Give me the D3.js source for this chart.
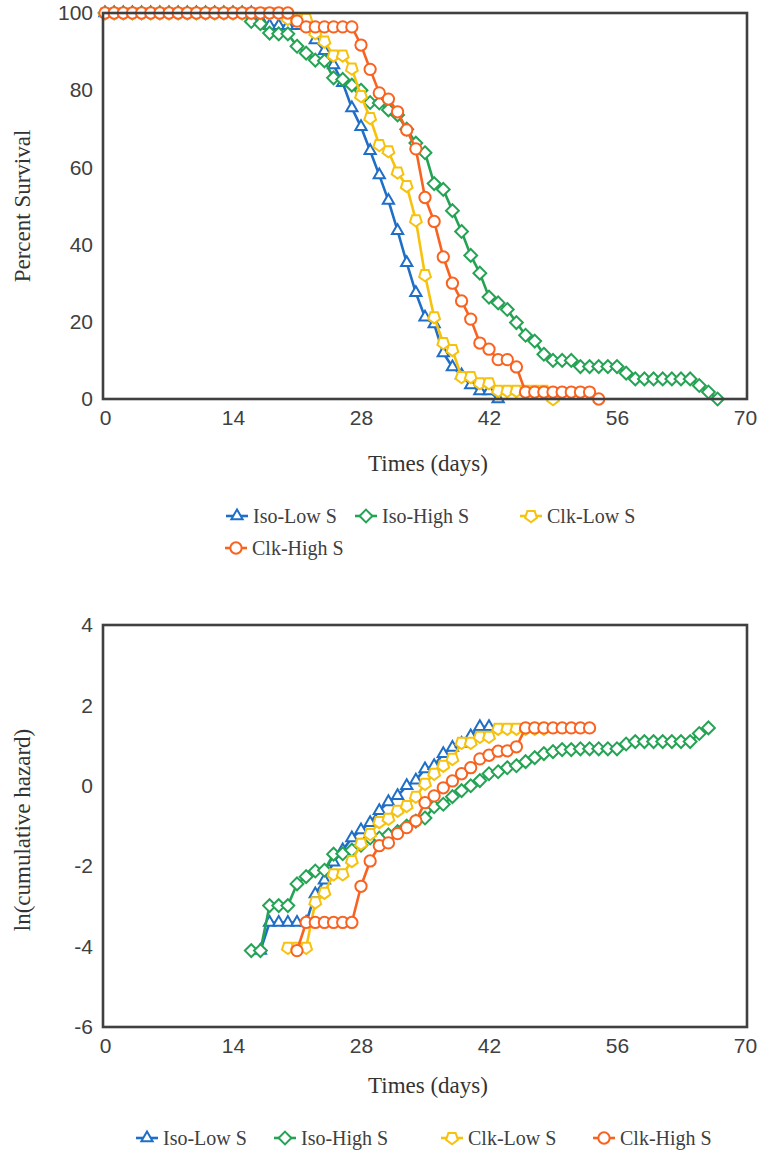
<!DOCTYPE html>
<html><head><meta charset="utf-8">
<script src="https://cdn.jsdelivr.net/npm/d3@7"></script>
<style>body{margin:0;background:#fff}</style>
</head><body>
<svg id="c" width="761" height="1154"></svg>
<script>
// ---------- data ----------
const seriesNames = ["Iso-Low S", "Iso-High S", "Clk-Low S", "Clk-High S"];
const seriesColors = ["#1f6fc8", "#25a354", "#f7c20d", "#f9621f"];
const seriesShapes = ["triangle", "diamond", "pentagon", "circle"];

const xTicks = [0, 14, 28, 42, 56, 70];
const survTicks = [0, 20, 40, 60, 80, 100];
const hazTicks = [-6, -4, -2, 0, 2, 4];

// Percent survival, one value per day starting at day 0
const survIsoLow = [100,100,100,100,100,100,100,100,100,100,100,100,100,100,100,100,100,
  98.3,96.7,96.7,96.7,96.7,96.7,93.0,90.2,86.5,81.9,75.4,70.5,64.3,58.0,51.4,43.6,35.3,27.5,
  21.2,19.4,11.9,8.3,6.2,3.6,2.1,2.1,0];
const survIsoHigh = [100,100,100,100,100,100,100,100,100,100,100,100,100,100,100,100,
  97.8,97.2,94.8,94.6,94.6,91.4,89.6,87.8,87.6,83.2,82.8,81.3,80.0,76.8,76.7,74.9,73.6,69.9,
  66.3,63.8,55.8,54.3,48.8,43.4,37.2,32.6,26.4,24.9,23.2,19.8,16.5,15.0,11.6,10.0,10.0,10.0,
  8.4,8.4,8.4,8.4,8.4,6.7,5.2,5.2,5.2,5.2,5.2,5.2,5.2,3.5,1.8,0];
const survClkLow = [100,100,100,100,100,100,100,100,100,100,100,100,100,100,100,100,100,100,100,100,
  98.5,98.5,98.5,94.8,92.6,89.0,89.0,85.6,78.5,72.8,65.8,64.2,58.7,55.2,46.3,32.1,21.2,14.5,
  12.7,5.7,5.7,4.1,4.1,2.1,2.1,2.1,2.1,2.1,2.1,0];
const survClkHigh = [100,100,100,100,100,100,100,100,100,100,100,100,100,100,100,100,100,100,100,100,100,
  97.9,96.4,96.4,96.4,96.4,96.4,96.4,91.7,85.4,79.3,77.7,74.4,69.7,64.8,52.2,46.0,36.8,30.0,
  25.4,20.7,14.5,12.9,10.2,10.2,8.3,1.8,1.8,1.8,1.8,1.8,1.8,1.8,1.8,0];

// ln(cumulative hazard), one value per day starting at the given first day
const hazStartDays = [17, 16, 20, 21];
const hazIsoLow = [-4.1,-3.4,-3.4,-3.4,-3.4,-3.4,-2.69,-2.35,-1.9,-1.6,-1.3,-1.1,-0.92,-0.62,
  -0.4,-0.25,0.0,0.14,0.42,0.5,0.8,0.95,1.05,1.24,1.47,1.47];
const hazIsoHigh = [-4.1,-4.1,-2.98,-2.98,-2.98,-2.44,-2.26,-2.12,-2.1,-1.7,-1.69,-1.6,-1.48,
  -1.3,-1.3,-1.22,-1.14,-1.0,-0.88,-0.8,-0.52,-0.46,-0.27,-0.12,0.0,0.13,0.3,0.35,0.45,0.5,
  0.6,0.7,0.8,0.85,0.9,0.9,0.92,0.92,0.92,0.92,0.92,1.04,1.1,1.1,1.1,1.1,1.1,1.1,1.1,1.3,1.44];
const hazClkLow = [-4.03,-4.03,-4.03,-2.9,-2.66,-2.2,-2.2,-1.87,-1.44,-1.2,-0.9,-0.82,-0.62,-0.5,
  -0.27,0.05,0.3,0.5,0.67,1.07,1.07,1.22,1.22,1.42,1.42,1.42,1.42,1.42,1.42];
const hazClkHigh = [-4.1,-3.4,-3.4,-3.4,-3.4,-3.4,-3.4,-2.5,-1.87,-1.49,-1.42,-1.19,-1.04,-0.87,
  -0.42,-0.25,-0.05,0.12,0.3,0.45,0.67,0.76,0.86,0.87,0.97,1.44,1.44,1.44,1.44,1.44,1.44,1.44,1.44];

const survSeries = [survIsoLow, survIsoHigh, survClkLow, survClkHigh];
const hazSeries = [hazIsoLow, hazIsoHigh, hazClkLow, hazClkHigh];

// ---------- drawing ----------
const svg = d3.select("#c");
const sansFont = "'Liberation Sans', Arial, sans-serif";
const serifFont = "'Liberation Serif', 'Times New Roman', serif";
const axisColor = "#404040";

function markerPath(shape) {
  if (shape === "triangle") return d3.symbol(d3.symbolTriangle, 55)();
  if (shape === "diamond") return "M0,-6.4L6.4,0L0,6.4L-6.4,0Z";
  if (shape === "pentagon") {
    const r = 6.2, pts = [];
    for (let i = 0; i < 5; i++) {
      const a = Math.PI / 2 + i * 2 * Math.PI / 5;
      pts.push([r * Math.cos(a), r * Math.sin(a)]);
    }
    return "M" + pts.map(p => p[0].toFixed(2) + "," + p[1].toFixed(2)).join("L") + "Z";
  }
  return d3.symbol(d3.symbolCircle, 100)();
}

function drawPanel(cfg) {
  const x = d3.scaleLinear().domain([0, 70]).range([cfg.left + 2, cfg.right - 2]);
  const y = d3.scaleLinear().domain(cfg.yDomain).range([cfg.bottom, cfg.top]);
  const g = svg.append("g");

  // axes (labels only)
  const ya = g.append("g").attr("transform", `translate(${cfg.left - 10},0)`)
    .call(d3.axisLeft(y).tickValues(cfg.yTicks).tickFormat(d => String(d)).tickSize(0).tickPadding(0));
  ya.select(".domain").remove();
  ya.selectAll("text").attr("font-family", sansFont).attr("font-size", 21).attr("fill", axisColor);

  const xa = g.append("g").attr("transform", `translate(0,${cfg.bottom + 8})`)
    .call(d3.axisBottom(x).tickValues(xTicks).tickFormat(d => String(d)).tickSize(0).tickPadding(0));
  xa.select(".domain").remove();
  xa.selectAll("text").attr("font-family", sansFont).attr("font-size", 21).attr("fill", axisColor)
    .attr("dy", "0.85em");

  // series
  const line = d3.line().x(d => x(d[0])).y(d => y(d[1]));
  cfg.series.forEach((vals, i) => {
    const start = cfg.starts[i];
    const pts = vals.map((v, k) => [start + k, v]);
    g.append("path").attr("d", line(pts)).attr("fill", "none")
      .attr("stroke", seriesColors[i]).attr("stroke-width", 2.6).attr("stroke-linejoin", "round");
    g.append("g").selectAll("path").data(pts).join("path")
      .attr("d", markerPath(seriesShapes[i]))
      .attr("transform", d => `translate(${x(d[0])},${y(d[1])})`)
      .attr("fill", "#fff").attr("stroke", seriesColors[i]).attr("stroke-width", 2);
  });

  // frame
  g.append("rect").attr("x", cfg.left).attr("y", cfg.top)
    .attr("width", cfg.right - cfg.left).attr("height", cfg.bottom - cfg.top)
    .attr("fill", "none").attr("stroke", axisColor).attr("stroke-width", 2.6);

  // titles
  g.append("text").attr("x", (cfg.left + cfg.right) / 2 + 3).attr("y", cfg.xTitleY)
    .attr("text-anchor", "middle").attr("font-family", serifFont).attr("font-size", 23)
    .attr("fill", "#333").text("Times (days)");
  g.append("text").attr("transform", `translate(${cfg.yTitleX},${cfg.yTitleY}) rotate(-90)`)
    .attr("text-anchor", "middle").attr("font-family", serifFont).attr("font-size", 23)
    .attr("fill", "#333").text(cfg.yTitle);

  // legend
  cfg.legend.forEach((p, i) => {
    const lg = g.append("g").attr("transform", `translate(${p[0]},${p[1]})`);
    lg.append("line").attr("x1", -11).attr("x2", 11).attr("stroke", seriesColors[i]).attr("stroke-width", 2.6);
    lg.append("path").attr("d", markerPath(seriesShapes[i])).attr("fill", "#fff")
      .attr("stroke", seriesColors[i]).attr("stroke-width", 2);
    lg.append("text").attr("x", 16).attr("dy", "0.35em").attr("font-family", serifFont)
      .attr("font-size", 20).attr("fill", "#404040").text(seriesNames[i]);
  });
}

drawPanel({
  left: 103, right: 747, top: 13, bottom: 399,
  yDomain: [0, 100], yTicks: survTicks,
  series: survSeries, starts: [0, 0, 0, 0],
  xTitleY: 471, yTitle: "Percent Survival", yTitleX: 30, yTitleY: 206,
  legend: [[237, 516], [366, 516], [531, 516], [236, 548]]
});

drawPanel({
  left: 103, right: 747, top: 625, bottom: 1027,
  yDomain: [-6, 4], yTicks: hazTicks,
  series: hazSeries, starts: hazStartDays,
  xTitleY: 1093, yTitle: "ln(cumulative hazard)", yTitleX: 30, yTitleY: 830,
  legend: [[147, 1138], [285, 1138], [452, 1138], [604, 1138]]
});
</script>
</body></html>
